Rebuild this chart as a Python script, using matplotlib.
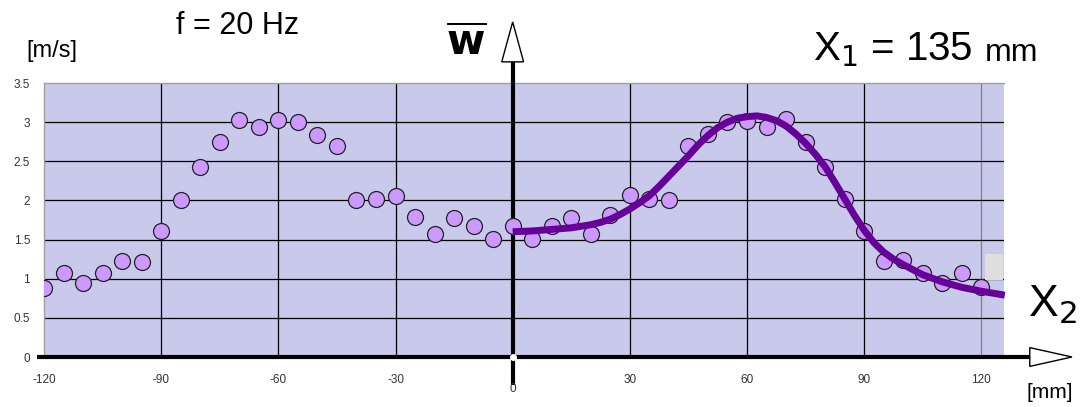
import numpy as np
import matplotlib
matplotlib.use('Agg')
import matplotlib.pyplot as plt
from matplotlib.patches import Polygon, Rectangle

plt.rcParams['font.family'] = ['Liberation Sans', 'DejaVu Sans']
plt.rcParams['axes.unicode_minus'] = False

# measured points, x2 in mm, w in m/s
x_pts = [-120, -115, -110, -105, -100, -95, -90, -85, -80, -75, -70, -65, -60,
         -55, -50, -45, -40, -35, -30, -25, -20, -15, -10, -5, 0,
         5, 10, 15, 20, 25, 30, 35, 40, 45, 50, 55, 60, 65, 70, 75, 80,
         85, 90, 95, 100, 105, 110, 115, 120]
w_pts = [0.88, 1.07, 0.95, 1.07, 1.23, 1.21, 1.61, 2.01, 2.43, 2.74, 3.03, 2.94, 3.03,
         3.00, 2.83, 2.69, 2.01, 2.02, 2.06, 1.79, 1.57, 1.77, 1.67, 1.51, 1.67,
         1.51, 1.67, 1.77, 1.57, 1.81, 2.07, 2.02, 2.01, 2.69, 2.85, 3.00, 3.02,
         2.94, 3.04, 2.75, 2.43, 2.02, 1.61, 1.22, 1.24, 1.07, 0.95, 1.07, 0.89]

# fitted curve
x_fit = [0, 5, 10, 15, 20, 22.5, 25, 27.5, 30, 32.5, 35, 37.5, 40, 42.5, 45, 47.5,
         50, 52.5, 55, 57.5, 60, 62.5, 65, 67.5, 70, 72.5, 75, 77.5, 80, 82.5,
         85, 87.5, 90, 92.5, 95, 97.5, 100, 105, 110, 115, 120, 126]
w_fit = [1.60, 1.61, 1.63, 1.65, 1.69, 1.72, 1.76, 1.82, 1.89, 1.97, 2.06, 2.18,
         2.31, 2.44, 2.57, 2.71, 2.83, 2.93, 3.00, 3.05, 3.07, 3.08, 3.06, 3.02,
         2.95, 2.85, 2.73, 2.59, 2.43, 2.23, 2.02, 1.81, 1.62, 1.46, 1.34, 1.25,
         1.18, 1.05, 0.96, 0.89, 0.84, 0.79]

x_ticks = [-120, -90, -60, -30, 30, 60, 90, 120]
y_ticks = [0, 0.5, 1, 1.5, 2, 2.5, 3, 3.5]

fig = plt.figure(figsize=(10.84, 4.07), dpi=100)
ax = fig.add_axes([44/1084, 1 - 357/407, 960/1084, 274/407])
ax.set_facecolor('#c9c9eb')
ax.set_xlim(-120, 125.8)
ax.set_ylim(0, 3.5)

for s in ['right', 'bottom']:
    ax.spines[s].set_visible(False)
for s in ['top', 'left']:
    ax.spines[s].set_color('#a0a0a0')
    ax.spines[s].set_linewidth(1)

# grid
for xv in [-90, -60, -30, 30, 60, 90]:
    ax.axvline(xv, color='black', lw=0.9, zorder=1)
ax.axvline(120, color='#808080', lw=0.9, zorder=1)
for yv in [0.5, 1, 1.5, 2, 2.5, 3]:
    ax.axhline(yv, color='black', lw=0.9, zorder=1)

# grey patch artifact near the right edge
ax.add_patch(Rectangle((121, 0.98), 4.5, 0.33, facecolor='#dedede', edgecolor='none', zorder=1.5))

ax.tick_params(length=0, labelsize=8.5, labelcolor='#333333')
ax.set_xticks(x_ticks)
ax.set_yticks(y_ticks)
ax.set_yticklabels([('%g' % v) for v in y_ticks])
ax.tick_params(axis='y', pad=10)
ax.tick_params(axis='x', pad=12)

# axes with arrows
ax.plot([-121.7, 132.5], [0, 0], color='black', lw=3, clip_on=False, zorder=3,
        solid_capstyle='butt')
ax.plot([0, 0], [-0.36, 3.78], color='black', lw=3, clip_on=False, zorder=3,
        solid_capstyle='butt')
ax.add_patch(Polygon([[132.4, 0.12], [143.2, 0], [132.4, -0.12]], closed=True,
                     facecolor='white', edgecolor='black', lw=1, clip_on=False, zorder=4))
ax.add_patch(Polygon([[-2.8, 3.77], [0, 4.28], [2.8, 3.77]], closed=True,
                     facecolor='white', edgecolor='black', lw=1, clip_on=False, zorder=4))
ax.plot([0], [0], 'o', ms=4, mfc='white', mec='white', clip_on=False, zorder=5)
ax.text(0, -0.41, '0', ha='center', va='center', fontsize=8.5, color='#333333')

ax.plot(x_pts, w_pts, 'o', ms=11.5, mfc='#cc99ff', mec='#222222', mew=0.9, zorder=6)
ax.plot(x_fit, w_fit, '-', color='#660099', lw=5, zorder=7, clip_on=False,
        solid_capstyle='butt', solid_joinstyle='round')

# labels
fig.text(52/1084, 1 - 51/407, '[m/s]', fontsize=17, ha='center', va='center')
fig.text(238/1084, 1 - 26/407, 'f = 20 Hz', fontsize=22, ha='center', va='center')
fig.text(466/1084, 1 - 44/407, r'$\overline{\mathbf{w}}$', fontsize=30, ha='center', va='center')
fig.text(973/1084, 1 - 50/407, r'X$_1$ = 135', fontsize=29, ha='right', va='center')
fig.text(985/1084, 1 - 53/407, 'mm', fontsize=23, ha='left', va='center')
fig.text(1052/1084, 1 - 305/407, r'X$_2$', fontsize=32, ha='center', va='center')
fig.text(1050/1084, 1 - 393/407, '[mm]', fontsize=15, ha='center', va='center')

fig.savefig('out.png', dpi=100)
